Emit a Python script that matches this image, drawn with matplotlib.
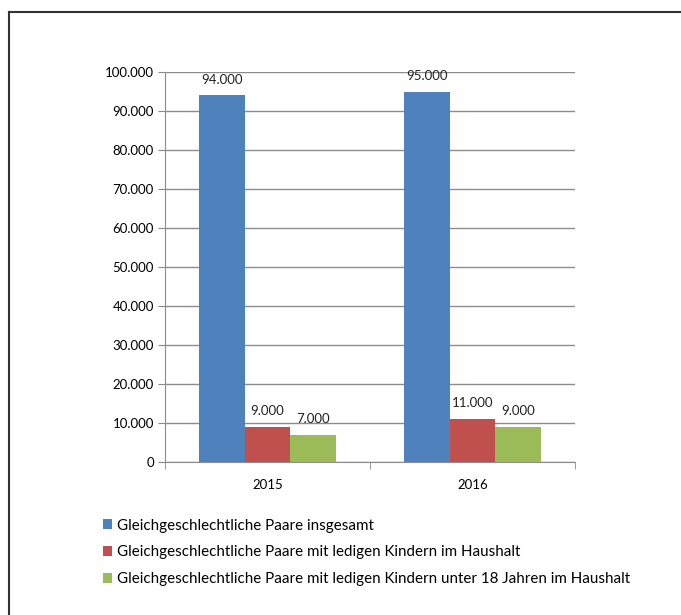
import matplotlib.pyplot as plt
import matplotlib.ticker as ticker
import numpy as np

plt.rcParams['font.family'] = ['Lato', 'DejaVu Sans']

# Daten
jahre = ['2015', '2016']
serien = [
    'Gleichgeschlechtliche Paare insgesamt',
    'Gleichgeschlechtliche Paare mit ledigen Kindern im Haushalt',
    'Gleichgeschlechtliche Paare mit ledigen Kindern unter 18 Jahren im Haushalt',
]
insgesamt = [94000, 95000]
mit_kindern = [9000, 11000]
unter_18 = [7000, 9000]
farben = ['#4F81BD', '#C0504D', '#9BBB59']

# Tausenderpunkt wie im Original
def punkt(v, _=None):
    return f'{v:,.0f}'.replace(',', '.')

fig = plt.figure(figsize=(6.81, 6.15), dpi=100)
ax = fig.add_axes([165/681, 1 - 462/615, 410/681, 390/615])

x = np.arange(len(jahre))
breite = 0.222
for i, (werte, name) in enumerate(zip([insgesamt, mit_kindern, unter_18], serien)):
    bars = ax.bar(x + (i - 1) * breite, werte, breite, color=farben[i], label=name, zorder=3)
    for b, v in zip(bars, werte):
        ax.annotate(punkt(v), (b.get_x() + b.get_width() / 2, v), xytext=(0, 7),
                    textcoords='offset points', ha='center', va='bottom',
                    fontsize=9.5, color='#222222')

ax.set_xlim(-0.5, len(jahre) - 0.5)
ax.set_ylim(0, 100000)
ax.yaxis.set_major_locator(ticker.MultipleLocator(10000))
ax.yaxis.set_major_formatter(ticker.FuncFormatter(punkt))
ax.set_xticks(x)
ax.set_xticklabels(jahre)
ax.set_xticks(np.arange(-0.5, len(jahre)), minor=True)
ax.tick_params(axis='x', which='major', length=0, pad=12, labelsize=9.5)
ax.tick_params(axis='x', which='minor', length=5, color='#888888', direction='out')
ax.tick_params(axis='y', length=5, color='#888888', labelsize=9.5, pad=3)

ax.grid(axis='y', color='#8c8c8c', linewidth=1, zorder=0)
for s in ['top', 'right']:
    ax.spines[s].set_visible(False)
for s in ['left', 'bottom']:
    ax.spines[s].set_color('#8c8c8c')

# Legende unten
fig.legend(loc='upper left', bbox_to_anchor=(89/681, 1 - 505/615), frameon=False,
           handlelength=0.6, handleheight=0.6, handletextpad=0.35,
           labelspacing=0.85, fontsize=10.9)

# Rahmen (nur links und oben sichtbar)
fig.add_artist(plt.Line2D([9/681, 9/681], [0, 1 - 12/615], color='#333333', linewidth=1.5,
                          transform=fig.transFigure))
fig.add_artist(plt.Line2D([9/681, 1], [1 - 12/615, 1 - 12/615], color='#333333', linewidth=1.5,
                          transform=fig.transFigure))

fig.savefig('out.png', dpi=100)
